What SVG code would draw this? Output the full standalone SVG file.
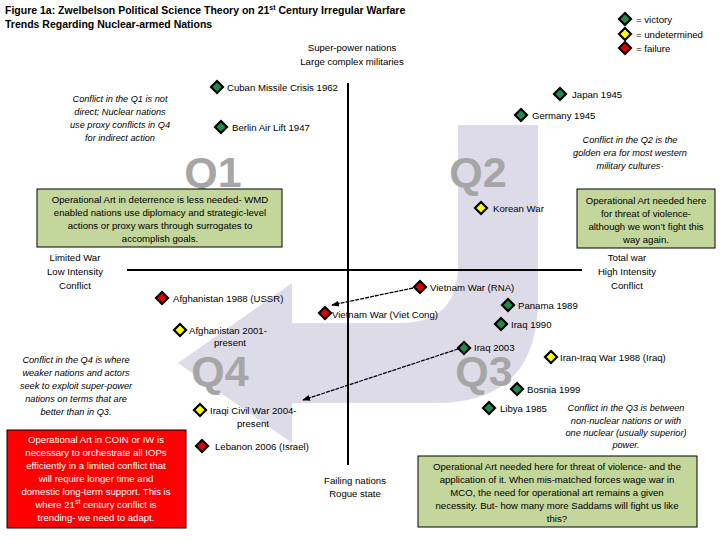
<svg xmlns="http://www.w3.org/2000/svg" xmlns:xlink="http://www.w3.org/1999/xlink" width="720" height="540" viewBox="0 0 720 540">
<style>
text{font-family:"Liberation Sans",Arial,sans-serif;font-size:9.6px;fill:#000}
.t{font-weight:bold;font-size:10.5px}
.c{text-anchor:middle}
.i{font-style:italic;font-size:9.2px}
.q{font-size:43px;font-weight:bold;fill:#a6a6a6;text-anchor:middle}
.w{fill:#fff}
.gb{fill:#c3d69b;stroke:#000;stroke-width:1}
.g{fill:#1e8c4a}.y{fill:#ffff00}.r{fill:#d00}
.ax{stroke:#000;stroke-width:2}
.cn{stroke:#000;stroke-width:1.3;stroke-dasharray:4 1;fill:none;marker-end:url(#ah)}
</style>
<defs>
<path id="dm" d="M0,-6 L6,0 L0,6 L-6,0Z" stroke="#000" stroke-width="2.2"/>
<marker id="ah" markerWidth="8" markerHeight="8" refX="7" refY="4" orient="auto" markerUnits="userSpaceOnUse"><path d="M0,1 L8,4 L0,7Z" fill="#000"/></marker>
</defs>
<rect width="720" height="540" fill="#fff"/>
<path d="M458,125 L538,125 L538,300 Q538,403 435,403 L292,403 L292,443 L178,363 L292,283 L292,323 L400,323 Q458,323 458,265 Z" fill="#dedbe8"/>
<g id="axes"><line class="ax" x1="348" y1="83" x2="348" y2="465"/><line class="ax" x1="127" y1="270" x2="582" y2="270"/></g>
<text class="t" x="5" y="14">Figure 1a: Zwelbelson Political Science Theory on 21<tspan font-size="7" dy="-4">st</tspan><tspan dy="4"> Century Irregular Warfare</tspan></text>
<text class="t" x="5" y="28">Trends Regarding Nuclear-armed Nations</text>
<g id="legend"><use href="#dm" class="g" x="625" y="19"/><text x="636" y="23">= victory</text><use href="#dm" class="y" x="625" y="34"/><text x="636" y="38">= undetermined</text><use href="#dm" class="r" x="625" y="48"/><text x="636" y="52">= failure</text></g>
<text class="c" x="352" y="51">Super-power nations</text><text class="c" x="352" y="65">Large complex militaries</text>
<text class="c" x="75" y="261">Limited War</text><text class="c" x="75" y="275">Low Intensity</text><text class="c" x="75" y="289">Conflict</text>
<text class="c" x="627" y="261">Total war</text><text class="c" x="627" y="275">High Intensity</text><text class="c" x="627" y="289">Conflict</text>
<text class="c" x="355" y="484">Failing nations</text><text class="c" x="355" y="497">Rogue state</text>
<text class="q" x="213" y="187">Q1</text><text class="q" x="478" y="187">Q2</text><text class="q" x="484" y="386">Q3</text><text class="q" x="220" y="386">Q4</text>
<g id="notes">
<text class="i c" x="120" y="102">Conflict in the Q1 is not</text><text class="i c" x="120" y="115">direct; Nuclear nations</text><text class="i c" x="120" y="128">use proxy conflicts in Q4</text><text class="i c" x="120" y="141">for indirect action</text>
<text class="i c" x="630" y="143">Conflict in the Q2 is the</text><text class="i c" x="630" y="156">golden era for most western</text><text class="i c" x="630" y="169">military cultures-</text>
<text class="i c" x="76" y="363">Conflict in the Q4 is where</text><text class="i c" x="76" y="376">weaker nations and actors</text><text class="i c" x="76" y="389">seek to exploit super-power</text><text class="i c" x="76" y="402">nations on terms that are</text><text class="i c" x="76" y="415">better than in Q3.</text>
<text class="i c" x="626" y="411">Conflict in the Q3 is between</text><text class="i c" x="626" y="424">non-nuclear nations or with</text><text class="i c" x="626" y="436">one nuclear (usually superior)</text><text class="i c" x="626" y="448">power.</text>
</g>
<g id="box1"><rect class="gb" x="37" y="189" width="245" height="58"/><text class="c" x="160" y="203">Operational Art in deterrence is less needed- WMD</text><text class="c" x="160" y="216">enabled nations use diplomacy and strategic-level</text><text class="c" x="160" y="229">actions or proxy wars through surrogates to</text><text class="c" x="160" y="242">accomplish goals.</text></g>
<g id="box2"><rect class="gb" x="577" y="189" width="138" height="59"/><text class="c" x="646" y="204">Operational Art needed here</text><text class="c" x="646" y="217">for threat of violence-</text><text class="c" x="646" y="230">although we won’t fight this</text><text class="c" x="646" y="243">way again.</text></g>
<g id="box3"><rect class="gb" x="418" y="456" width="279" height="71"/><text class="c" x="557" y="470">Operational Art needed here for threat of violence- and the</text><text class="c" x="557" y="483">application of it. When mis-matched forces wage war in</text><text class="c" x="557" y="496">MCO, the need for operational art remains a given</text><text class="c" x="557" y="509">necessity. But- how many more Saddams will fight us like</text><text class="c" x="557" y="522">this?</text></g>
<g id="box4"><rect x="7" y="430" width="179" height="98" fill="#f00" stroke="#000"/><text class="c w" x="96" y="443">Operational Art in COIN or IW is</text><text class="c w" x="96" y="456">necessary to orchestrate all IOPs</text><text class="c w" x="96" y="469">efficiently in a limited conflict that</text><text class="c w" x="96" y="482">will require longer time and</text><text class="c w" x="96" y="495">domestic long-term support. This is</text><text class="c w" x="96" y="508">where 21<tspan font-size="7" dy="-4">st</tspan><tspan dy="4"> century conflict is</tspan></text><text class="c w" x="96" y="521">trending- we need to adapt.</text></g>
<g id="connectors"><path class="cn" d="M413,288 L332,305"/><path class="cn" d="M458,349 L303,400"/></g>
<g id="cuba"><use href="#dm" class="g" x="217" y="87"/><text x="227" y="91">Cuban Missile Crisis 1962</text></g>
<g id="berlin"><use href="#dm" class="g" x="221" y="127"/><text x="232" y="131">Berlin Air Lift 1947</text></g>
<g id="japan"><use href="#dm" class="g" x="560" y="94"/><text x="572" y="98">Japan 1945</text></g>
<g id="germany"><use href="#dm" class="g" x="521" y="115"/><text x="532" y="119">Germany 1945</text></g>
<g id="korea"><use href="#dm" class="y" x="481" y="208"/><text x="493" y="212">Korean War</text></g>
<g id="afg88"><use href="#dm" class="r" x="162" y="298"/><text x="173" y="302">Afghanistan 1988 (USSR)</text></g>
<g id="afg01"><use href="#dm" class="y" x="180" y="330"/><text x="189" y="334">Afghanistan 2001-</text><text class="c" x="230" y="346">present</text></g>
<g id="vc"><use href="#dm" class="r" x="325" y="313"/><text x="332" y="318">Vietnam War (Viet Cong)</text></g>
<g id="rna"><use href="#dm" class="r" x="420" y="287"/><text x="430" y="291">Vietnam War (RNA)</text></g>
<g id="panama"><use href="#dm" class="g" x="508" y="305"/><text x="518" y="309">Panama 1989</text></g>
<g id="iraq90"><use href="#dm" class="g" x="501" y="324"/><text x="511" y="328">Iraq 1990</text></g>
<g id="iraq03"><use href="#dm" class="g" x="464" y="348"/><text x="474" y="351">Iraq 2003</text></g>
<g id="iraniraq"><use href="#dm" class="y" x="551" y="357"/><text x="560" y="361">Iran-Iraq War 1988 (Iraq)</text></g>
<g id="bosnia"><use href="#dm" class="g" x="517" y="389"/><text x="527" y="393">Bosnia 1999</text></g>
<g id="libya"><use href="#dm" class="g" x="489" y="408"/><text x="500" y="412">Libya 1985</text></g>
<g id="iraqcw"><use href="#dm" class="y" x="200" y="410"/><text x="210" y="414">Iraqi Civil War 2004-</text><text class="c" x="253" y="427">present</text></g>
<g id="lebanon"><use href="#dm" class="r" x="202" y="446"/><text x="215" y="450">Lebanon 2006 (Israel)</text></g>
</svg>
